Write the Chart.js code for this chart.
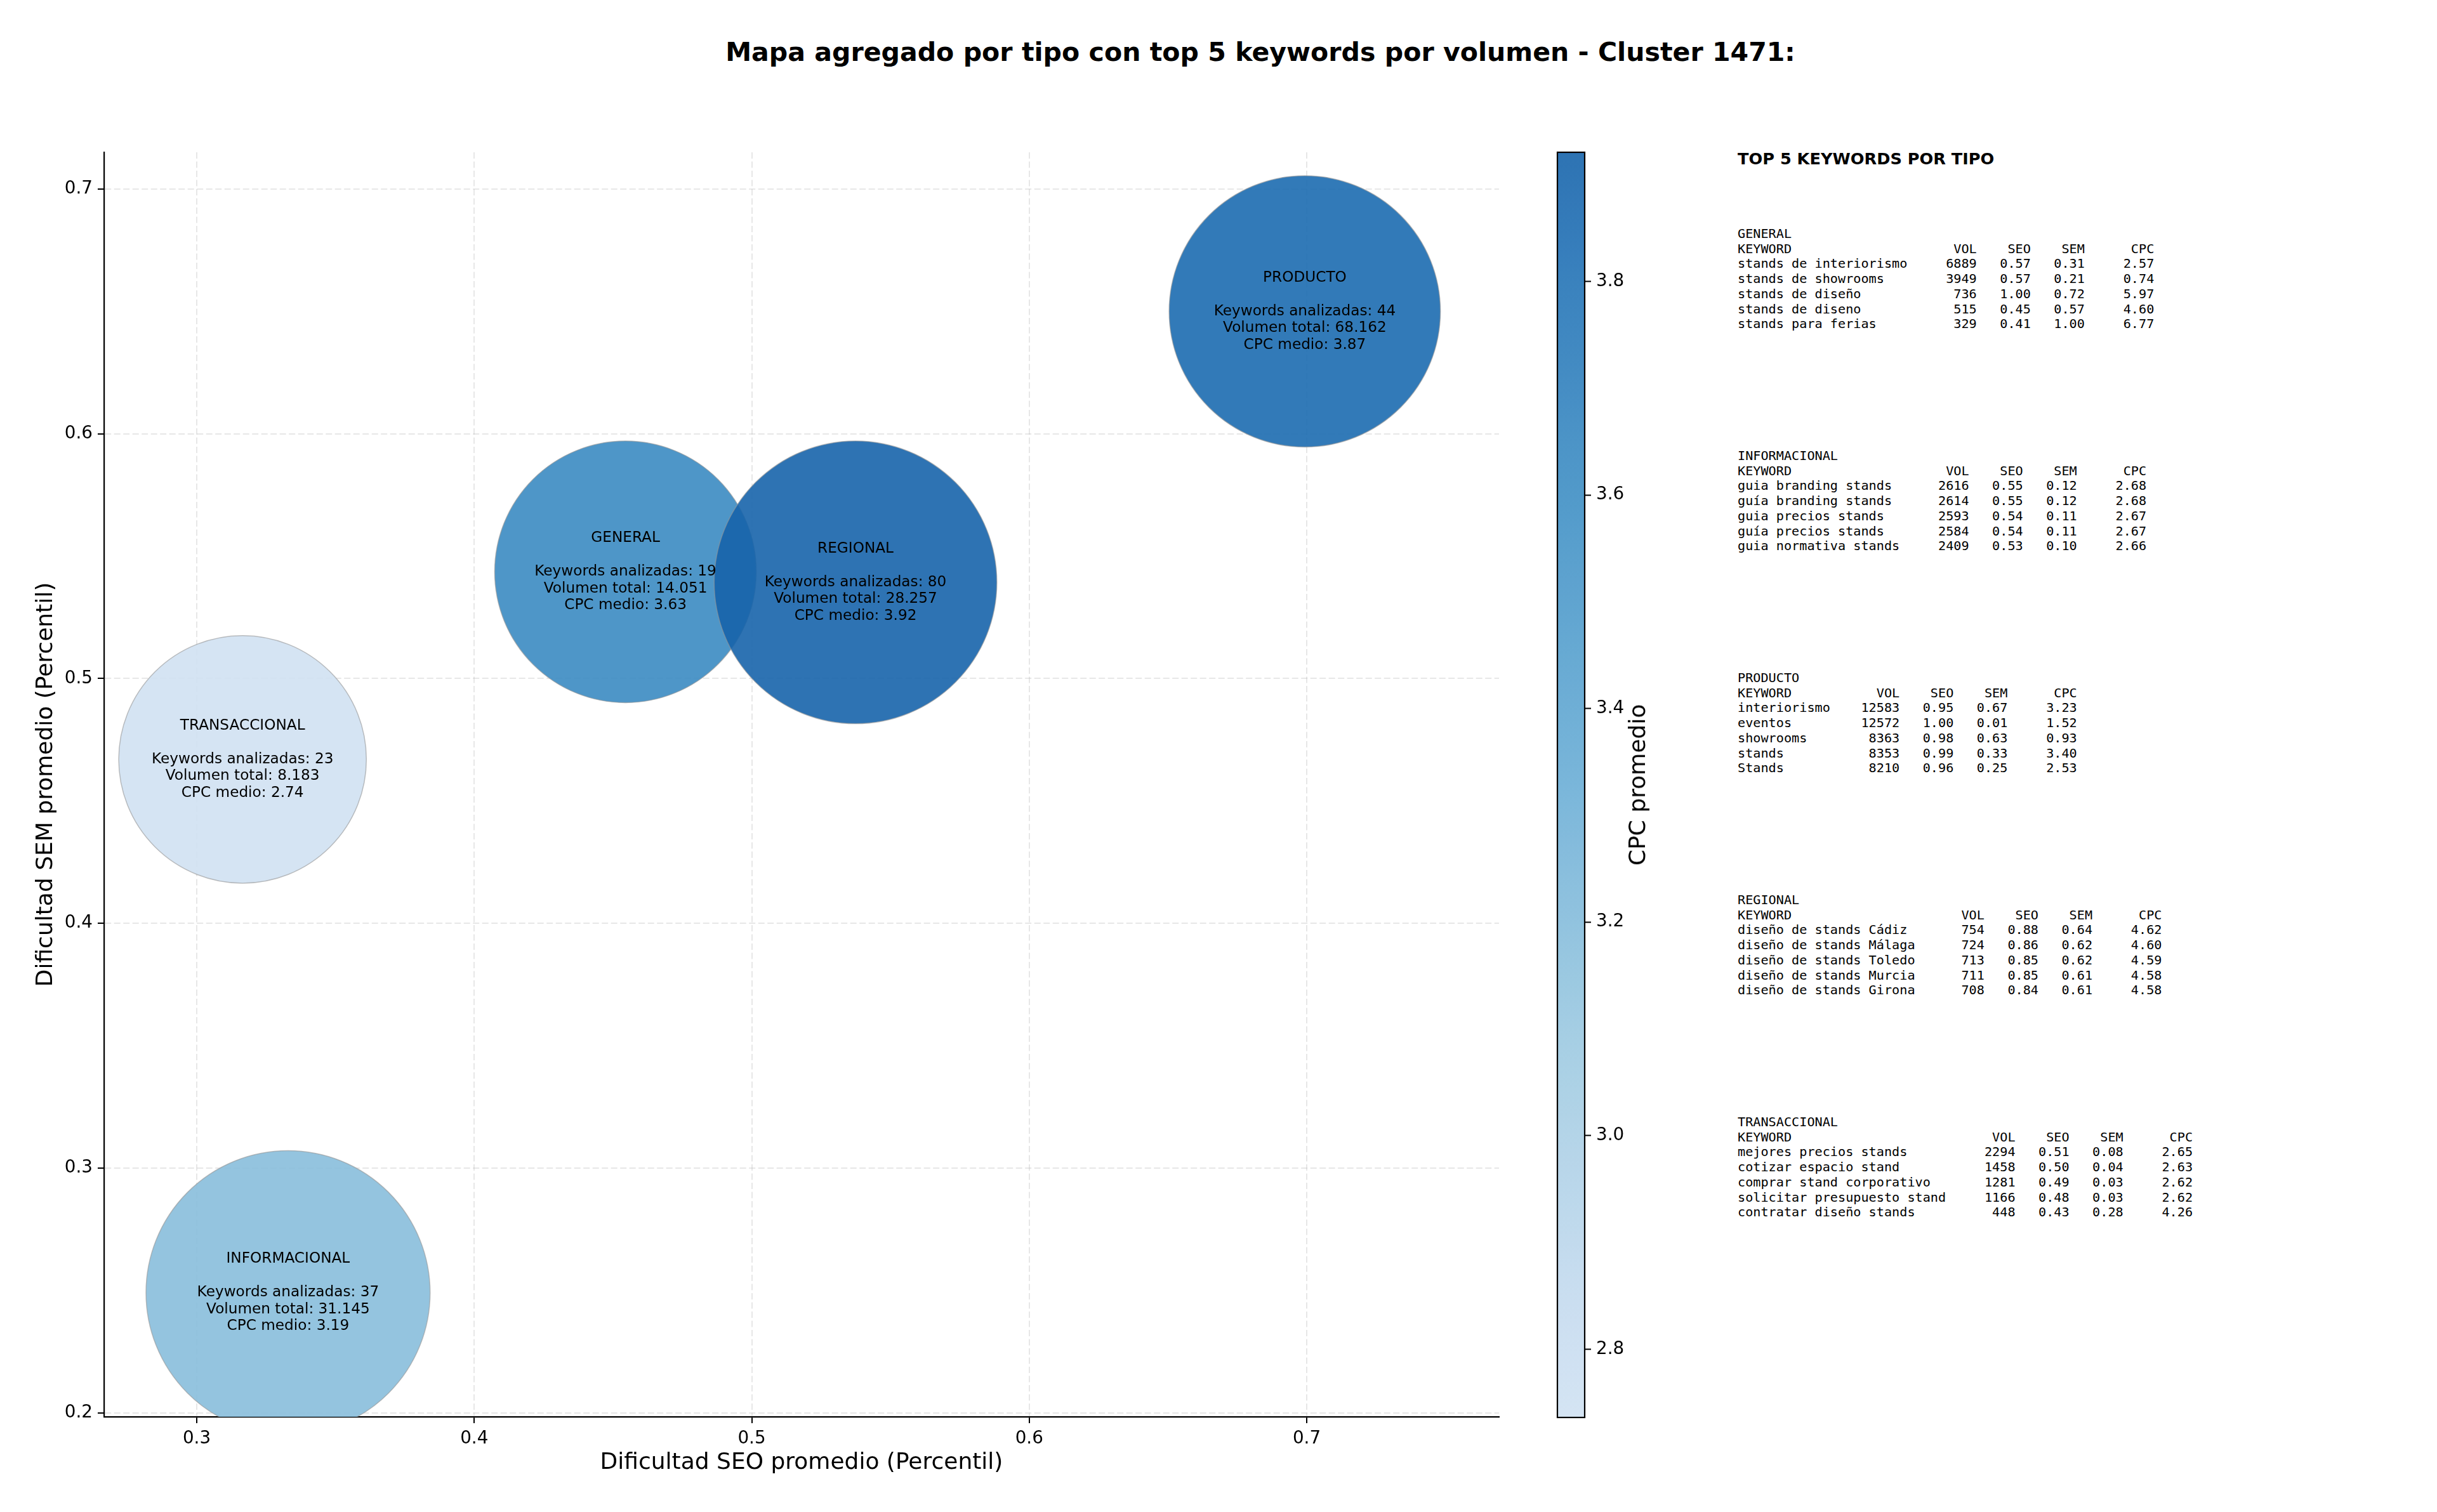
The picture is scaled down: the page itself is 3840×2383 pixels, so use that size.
<!DOCTYPE html>
<html>
<head>
<meta charset="utf-8">
<script src="https://cdn.jsdelivr.net/npm/chart.js@4.4.1/dist/chart.umd.min.js"></script>
<style>
  body { margin: 0; background: #fff; width: 3840px; height: 2383px; overflow: hidden; position: relative; font-family: "DejaVu Sans", sans-serif; }
  canvas { position: absolute; top: 0; }
  #title { position: absolute; left: 1986px; top: 83px; transform: translate(-50%, -50%); font-weight: bold; font-size: 41.1px; white-space: nowrap; line-height: 1; }
  #topTitle { position: absolute; left: 2738px; top: 251px; transform: translateY(-50%); font-weight: bold; font-size: 25.6px; white-space: nowrap; line-height: 1; }
  #cbarLabel { position: absolute; left: 2580px; top: 1237px; transform: translate(-50%, -50%) rotate(-90deg); font-size: 36px; white-space: nowrap; line-height: 1; }
  pre.block { position: absolute; left: 2738px; margin: 0; font-family: "DejaVu Sans Mono", monospace; font-size: 20.2px; line-height: 23.7px; }
</style>
</head>
<body>
<div id="title">Mapa agregado por tipo con top 5 keywords por volumen - Cluster 1471:</div>
<canvas id="main" width="2400" height="2383" style="left:0"></canvas>
<canvas id="cbar" width="200" height="2383" style="left:2440px"></canvas>
<div id="cbarLabel">CPC promedio</div>
<div id="topTitle">TOP 5 KEYWORDS POR TIPO</div>
<div id="blocks"></div>
<script>
// aggregated values per type (read from the bubbles)
const tipos = ['GENERAL', 'INFORMACIONAL', 'PRODUCTO', 'REGIONAL', 'TRANSACCIONAL'];
const seoPromedio = [0.4545, 0.3329, 0.6993, 0.5374, 0.3165];
const semPromedio = [0.5436, 0.2491, 0.6500, 0.5393, 0.4670];
const keywordsAnalizadas = [19, 37, 44, 80, 23];
const volumenTotal = [14051, 31145, 68162, 28257, 8183];
const cpcMedio = [3.63, 3.19, 3.87, 3.921, 2.736];
// marker area (pt^2)
const bubbleSize = [17300, 20400, 18600, 20200, 15500];

const xTicks = [0.3, 0.4, 0.5, 0.6, 0.7];
const yTicks = [0.2, 0.3, 0.4, 0.5, 0.6, 0.7];
const cbarTicks = [2.8, 3.0, 3.2, 3.4, 3.6, 3.8];

// top 5 keywords per type: keyword, vol, seo, sem, cpc
const topGeneral = [
  ['stands de interiorismo', 6889, 0.57, 0.31, 2.57],
  ['stands de showrooms', 3949, 0.57, 0.21, 0.74],
  ['stands de diseño', 736, 1.00, 0.72, 5.97],
  ['stands de diseno', 515, 0.45, 0.57, 4.60],
  ['stands para ferias', 329, 0.41, 1.00, 6.77]
];
const topInformacional = [
  ['guia branding stands', 2616, 0.55, 0.12, 2.68],
  ['guía branding stands', 2614, 0.55, 0.12, 2.68],
  ['guia precios stands', 2593, 0.54, 0.11, 2.67],
  ['guía precios stands', 2584, 0.54, 0.11, 2.67],
  ['guia normativa stands', 2409, 0.53, 0.10, 2.66]
];
const topProducto = [
  ['interiorismo', 12583, 0.95, 0.67, 3.23],
  ['eventos', 12572, 1.00, 0.01, 1.52],
  ['showrooms', 8363, 0.98, 0.63, 0.93],
  ['stands', 8353, 0.99, 0.33, 3.40],
  ['Stands', 8210, 0.96, 0.25, 2.53]
];
const topRegional = [
  ['diseño de stands Cádiz', 754, 0.88, 0.64, 4.62],
  ['diseño de stands Málaga', 724, 0.86, 0.62, 4.60],
  ['diseño de stands Toledo', 713, 0.85, 0.62, 4.59],
  ['diseño de stands Murcia', 711, 0.85, 0.61, 4.58],
  ['diseño de stands Girona', 708, 0.84, 0.61, 4.58]
];
const topTransaccional = [
  ['mejores precios stands', 2294, 0.51, 0.08, 2.65],
  ['cotizar espacio stand', 1458, 0.50, 0.04, 2.63],
  ['comprar stand corporativo', 1281, 0.49, 0.03, 2.62],
  ['solicitar presupuesto stand', 1166, 0.48, 0.03, 2.62],
  ['contratar diseño stands', 448, 0.43, 0.28, 4.26]
];
const topTables = [topGeneral, topInformacional, topProducto, topRegional, topTransaccional];

// colour map: Blues truncated to 0.2-0.8, alpha 0.9
const BLUES = [[247,251,255],[222,235,247],[198,219,239],[158,202,225],[107,174,214],[66,146,198],[33,113,181],[8,81,156],[8,48,107]];
const cpcMin = Math.min(...cpcMedio);
const cpcMax = Math.max(...cpcMedio);

function blues(t) {
  const p = Math.max(0, Math.min(1, t)) * 8;
  const i = Math.min(7, Math.floor(p));
  const f = p - i;
  return BLUES[i].map((c, k) => Math.round(c + (BLUES[i + 1][k] - c) * f));
}
function normColor(n) {
  const [r, g, b] = blues(0.2 + 0.6 * n);
  return 'rgba(' + r + ',' + g + ',' + b + ',0.9)';
}
function cpcColor(v) {
  return normColor((v - cpcMin) / (cpcMax - cpcMin));
}
function sizeToRadius(s) {
  return Math.sqrt(s / Math.PI) * 200 / 72;
}
function miles(v) {
  return String(v).replace(/\B(?=(\d{3})+(?!\d))/g, '.');
}

// text labels inside the bubbles
const bubbleLabels = {
  id: 'bubbleLabels',
  afterDraw(chart) {
    const ctx = chart.ctx;
    const meta = chart.getDatasetMeta(0);
    ctx.save();
    ctx.font = '23.2px "DejaVu Sans"';
    ctx.fillStyle = '#000';
    ctx.textAlign = 'center';
    ctx.textBaseline = 'middle';
    meta.data.forEach((pt, i) => {
      const lines = [
        tipos[i],
        '',
        'Keywords analizadas: ' + keywordsAnalizadas[i],
        'Volumen total: ' + miles(volumenTotal[i]),
        'CPC medio: ' + cpcMedio[i].toFixed(2)
      ];
      lines.forEach((t, j) => ctx.fillText(t, pt.x, pt.y + (j - 2) * 26.5));
    });
    ctx.restore();
  }
};

const tickFont = { family: 'DejaVu Sans', size: 27.8 };
const gridColor = 'rgba(176,176,176,0.3)';

new Chart(document.getElementById('main'), {
  type: 'bubble',
  data: {
    datasets: [{
      data: tipos.map((t, i) => ({ x: seoPromedio[i], y: semPromedio[i], r: sizeToRadius(bubbleSize[i]) })),
      backgroundColor: cpcMedio.map(cpcColor),
      borderColor: 'rgba(150,150,150,0.6)',
      borderWidth: 1.5,
      clip: 0
    }]
  },
  options: {
    responsive: false,
    animation: false,
    devicePixelRatio: 1,
    events: [],
    layout: { autoPadding: false, padding: { left: 0, top: 240, right: 38, bottom: 0 } },
    plugins: { legend: { display: false }, tooltip: { enabled: false } },
    scales: {
      x: {
        type: 'linear', min: 0.2666, max: 0.7693, z: 1,
        afterBuildTicks: s => { s.ticks = xTicks.map(v => ({ value: v })); },
        afterFit: s => { s.height = 150; },
        ticks: { font: tickFont, color: '#000', padding: 8, maxRotation: 0, callback: v => Number(v).toFixed(1) },
        grid: { color: gridColor, lineWidth: 2, tickLength: 10, tickColor: '#000', tickWidth: 2 },
        border: { color: '#000', width: 2.2, dash: [10, 4.5] },
        title: { display: true, text: 'Dificultad SEO promedio (Percentil)', color: '#000', font: { family: 'DejaVu Sans', size: 36 }, padding: { top: 0, bottom: 56 } }
      },
      y: {
        type: 'linear', min: 0.1984, max: 0.715, z: 1,
        afterBuildTicks: s => { s.ticks = yTicks.map(v => ({ value: v })); },
        afterFit: s => { s.width = 164; },
        ticks: { font: tickFont, color: '#000', padding: 8, callback: v => Number(v).toFixed(1) },
        grid: { color: gridColor, lineWidth: 2, tickLength: 10, tickColor: '#000', tickWidth: 2 },
        border: { color: '#000', width: 2.2, dash: [10, 4.5] },
        title: { display: true, text: 'Dificultad SEM promedio (Percentil)', color: '#000', font: { family: 'DejaVu Sans', size: 36 }, padding: { top: 51, bottom: 0 } }
      }
    }
  },
  plugins: [bubbleLabels]
});

// colorbar
const colorbarFill = {
  id: 'colorbarFill',
  beforeDatasetsDraw(chart) {
    const { ctx, chartArea: a } = chart;
    const grad = ctx.createLinearGradient(0, a.bottom, 0, a.top);
    for (let k = 0; k <= 50; k++) grad.addColorStop(k / 50, normColor(k / 50));
    ctx.save();
    ctx.fillStyle = grad;
    ctx.fillRect(a.left, a.top, a.right - a.left, a.bottom - a.top);
    ctx.restore();
  },
  afterDraw(chart) {
    const { ctx, chartArea: a } = chart;
    ctx.save();
    ctx.strokeStyle = '#000';
    ctx.lineWidth = 2.2;
    ctx.strokeRect(a.left, a.top, a.right - a.left, a.bottom - a.top);
    ctx.restore();
  }
};

new Chart(document.getElementById('cbar'), {
  type: 'scatter',
  data: { datasets: [] },
  options: {
    responsive: false,
    animation: false,
    devicePixelRatio: 1,
    events: [],
    layout: { padding: { left: 14, top: 240, right: 0, bottom: 149 } },
    plugins: { legend: { display: false }, tooltip: { enabled: false } },
    scales: {
      x: { display: false, min: 0, max: 1 },
      y: {
        position: 'right', min: cpcMin, max: cpcMax,
        afterBuildTicks: s => { s.ticks = cbarTicks.map(v => ({ value: v })); },
        afterFit: s => { s.width = 143; },
        ticks: { font: tickFont, color: '#000', padding: 8, callback: v => Number(v).toFixed(1) },
        grid: { drawOnChartArea: false, tickLength: 10, tickColor: '#000', tickWidth: 2 },
        border: { display: false }
      }
    }
  },
  plugins: [colorbarFill]
});

// keyword tables on the right
const blocks = document.getElementById('blocks');
topTables.forEach((rows, k) => {
  const w = Math.max(...rows.map(r => r[0].length));
  const lines = [tipos[k],
    'KEYWORD'.padEnd(w) + ' ' + 'VOL'.padStart(8) + ' ' + 'SEO'.padStart(6) + ' ' + 'SEM'.padStart(6) + ' ' + 'CPC'.padStart(8)];
  rows.forEach(r => {
    lines.push(r[0].padEnd(w) + ' ' + String(r[1]).padStart(8) + ' ' + r[2].toFixed(2).padStart(6) + ' ' +
      r[3].toFixed(2).padStart(6) + ' ' + r[4].toFixed(2).padStart(8));
  });
  const pre = document.createElement('pre');
  pre.className = 'block';
  pre.style.top = (357 + 350 * k) + 'px';
  pre.textContent = lines.join('\n');
  blocks.appendChild(pre);
});
</script>
</body>
</html>
